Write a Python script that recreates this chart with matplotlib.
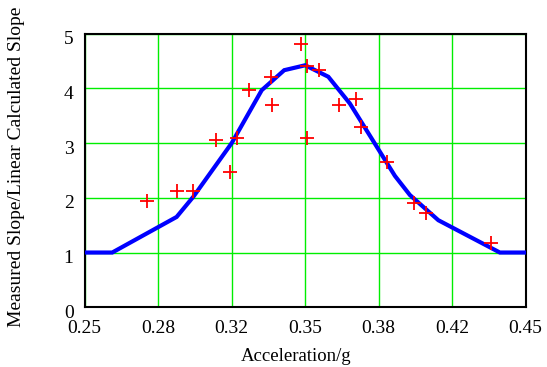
import numpy as np
import matplotlib
matplotlib.use("Agg")
import matplotlib.pyplot as plt
import matplotlib.transforms as mtransforms

# fitted curve (vertices)
curve_x = [0.25, 0.2625, 0.2917, 0.2993, 0.3167, 0.3303, 0.3405, 0.3500,
           0.3605, 0.3703, 0.3907, 0.3975, 0.4104, 0.4383, 0.45]
curve_y = [1.0, 1.0, 1.65, 2.02, 3.0, 3.965, 4.33, 4.42,
           4.21, 3.72, 2.40, 2.05, 1.59, 1.0, 1.0]

# measured points
meas_x = [0.2781, 0.2920, 0.2993, 0.3096, 0.3159, 0.3189, 0.3245, 0.3344,
          0.3351, 0.3480, 0.3507, 0.3510, 0.3564, 0.3653, 0.3730, 0.3753,
          0.3870, 0.3995, 0.4048, 0.4343]
meas_y = [1.945, 2.12, 2.12, 3.05, 2.47, 3.10, 3.965, 4.21,
          3.69, 4.80, 4.40, 3.10, 4.34, 3.69, 3.81, 3.30,
          2.66, 1.90, 1.73, 1.18]

xticks = np.linspace(0.25, 0.45, 7)
xtick_labels = ["0.25", "0.28", "0.32", "0.35", "0.38", "0.42", "0.45"]
yticks = [0, 1, 2, 3, 4, 5]

plt.rcParams["font.family"] = ["Liberation Serif", "DejaVu Serif"]

fig = plt.figure(figsize=(5.47, 3.67), dpi=100)
ax = fig.add_axes([0.1548, 0.1627, 0.8062, 0.746])

ax.plot(curve_x, curve_y, color="#0000ff", lw=3.0, zorder=3,
        solid_joinstyle="miter")
ax.plot(meas_x, meas_y, ls="none", marker="+", color="#ff0000",
        markersize=10, markeredgewidth=1.3, zorder=4)

ax.set_xlim(0.25, 0.45)
ax.set_ylim(0, 5)
ax.set_xticks(xticks)
ax.set_xticklabels(xtick_labels)
ax.set_yticks(yticks)
ax.grid(True, color="#00ee00", lw=1.0)
ax.set_axisbelow(True)
ax.tick_params(length=0, labelsize=14, colors="black")
ax.tick_params(axis="x", pad=9)
ax.tick_params(axis="y", pad=8)
for s in ax.spines.values():
    s.set_color("black")
    s.set_linewidth(1.5)

# y tick labels sit a little below their grid lines in the original
shift = mtransforms.ScaledTranslation(0, -4 / 100, fig.dpi_scale_trans)
for lbl in ax.get_yticklabels():
    lbl.set_transform(lbl.get_transform() + shift)

ax.set_xlabel("Acceleration/g", fontsize=13.5)
ax.xaxis.set_label_coords(0.479, -0.147)
ax.set_ylabel("Measured Slope/Linear Calculated Slope", fontsize=14)
ax.yaxis.set_label_coords(-0.135, 0.514)

fig.savefig("out.png", dpi=100)
